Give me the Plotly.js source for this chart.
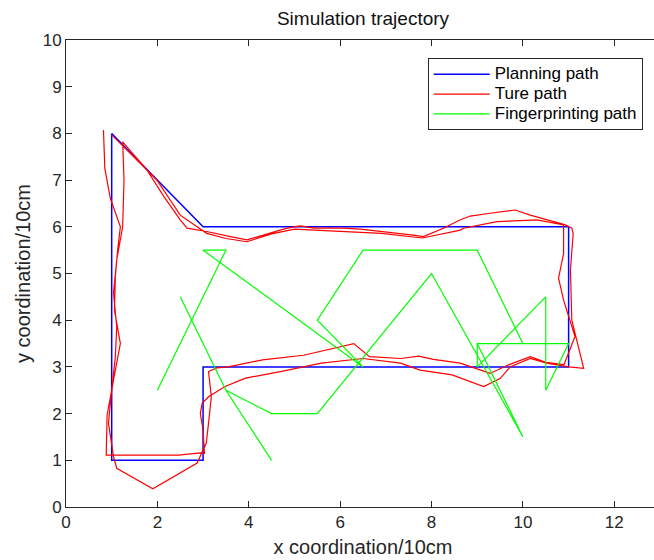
<!DOCTYPE html>
<html>
<head>
<meta charset="utf-8">
<script src="https://cdn.plot.ly/plotly-3.0.1.min.js"></script>
<style>html,body{margin:0;padding:0;overflow:hidden;background:#fff;}</style>
</head>
<body>
<div id="chart"></div>
<script>
// Planning path
const planX = [1, 1, 3, 3, 11, 11, 3, 1];
const planY = [8, 1, 1, 3, 3, 6, 6, 8];

// True ("Ture") path, two laps
const trueX = [0.82,0.85,0.97,1.04,1.19,1.13,1.08,1.06,1.19,1.08,0.97,0.90,0.88,2.46,2.94,3.03,3.00,2.94,2.98,3.12,3.48,3.93,4.69,5.59,6.50,7.32,7.75,8.45,9.14,9.50,9.72,10.16,10.52,11.00,11.33,11.18,11.07,11.04,11.10,11.07,10.93,10.16,9.83,9.28,8.85,8.63,8.26,7.82,7.60,6.88,6.44,6.07,5.42,5.13,4.98,4.76,3.96,3.60,3.08,2.65,2.50,2.14,1.77,1.24,
  1.27,1.24,1.11,1.04,1.11,1.08,1.00,0.97,0.93,1.00,1.04,1.11,1.90,2.87,3.07,3.12,3.18,3.12,3.30,3.55,4.30,5.20,5.90,6.30,6.64,7.32,7.72,8.04,8.63,9.28,9.70,10.16,10.50,10.90,11.14,11.00,10.89,10.78,10.89,10.89,10.89,10.31,9.43,8.70,8.63,7.80,6.90,6.00,5.00,4.50,3.96,3.50,3.08,2.50,2.28,1.99,1.00];
const trueY = [8.07,7.25,6.61,6.43,6.00,5.50,4.93,4.22,3.50,2.93,2.36,1.97,1.11,1.11,1.16,1.15,1.65,2.00,2.22,2.36,2.58,2.76,2.90,3.08,3.18,3.08,2.93,2.83,2.58,2.75,3.00,3.18,3.08,3.00,2.97,3.60,4.00,5.07,5.86,5.97,6.04,6.25,6.36,6.29,6.23,6.15,5.97,5.79,5.82,5.90,5.95,5.97,5.97,6.02,6.00,5.95,5.72,5.79,5.90,5.97,6.15,6.65,7.22,7.82,
  7.00,6.00,5.29,4.58,3.86,3.22,2.58,2.22,1.79,1.36,1.08,0.83,0.39,0.94,1.37,1.80,2.36,2.90,2.98,3.00,3.15,3.25,3.40,3.50,3.22,3.18,3.23,3.16,3.08,2.86,3.05,3.22,3.10,3.05,3.65,4.07,4.43,4.90,5.43,5.72,6.04,6.15,6.11,5.97,5.93,5.76,5.86,5.90,5.95,5.85,5.68,5.75,5.86,6.25,6.57,7.00,7.97];

// Fingerprinting path
const fpX = [2, 3.5, 3, 6.5, 5.5, 6.5, 9, 10, 11, 10.5, 10.5, 9, 9, 10, 11, 9, 10, 8, 5.5, 4.5, 3.5, 2.5, 3.5, 4.5];
const fpY = [2.5, 5.5, 5.5, 3, 4, 5.5, 5.5, 3.5, 3.5, 2.5, 4.5, 3, 3.5, 3.5, 3.5, 3.5, 1.5, 5, 2, 2, 2.5, 4.5, 2.5, 1];

const names = ['Planning path', 'Ture path', 'Fingerprinting path'];
const colors = ['#0000ff', '#ff0000', '#00ff00'];

const font = 'Liberation Sans, Arial, Helvetica, sans-serif';
const axisColor = '#262626';
const legendName = n => '<span style="font-size:17px">' + n + '</span>';

const traces = [
  {x: planX, y: planY, mode: 'lines', name: legendName(names[0]), line: {color: colors[0], width: 1.5}},
  {x: trueX, y: trueY, mode: 'lines', name: legendName(names[1]), line: {color: colors[1], width: 1.2}},
  {x: fpX, y: fpY, mode: 'lines', name: legendName(names[2]), line: {color: colors[2], width: 1.2}}
];

const axisCommon = {
  showgrid: false, zeroline: false, showline: true, mirror: 'ticks',
  linecolor: axisColor, linewidth: 1, ticks: 'inside', ticklen: 6,
  tickcolor: axisColor, tickfont: {family: font, size: 17, color: axisColor}
};

const layout = {
  width: 670, height: 560,
  margin: {l: 66, r: 10, t: 40, b: 53},
  paper_bgcolor: '#ffffff', plot_bgcolor: '#ffffff',
  font: {family: font, color: axisColor},
  title: {text: 'Simulation trajectory', font: {family: font, size: 19, color: '#111'}, x: 0.5, xref: 'paper', y: 0.968, yref: 'container', yanchor: 'middle'},
  xaxis: Object.assign({}, axisCommon, {range: [0, 13], dtick: 2, tick0: 0,
    title: {text: 'x coordination/10cm', font: {family: font, size: 20, color: axisColor}, standoff: 8}}),
  yaxis: Object.assign({}, axisCommon, {range: [0, 10], dtick: 1, tick0: 0,
    title: {text: 'y coordination/10cm', font: {family: font, size: 20, color: axisColor}, standoff: 6}}),
  showlegend: true,
  legend: {x: 0.609, y: 0.961, xanchor: 'left', yanchor: 'top', bgcolor: '#fff',
    bordercolor: axisColor, borderwidth: 1, font: {family: font, size: 13, color: '#000'},
    itemwidth: 56, tracegroupgap: 0}
};

Plotly.newPlot('chart', traces, layout, {displayModeBar: false, staticPlot: true});
</script>
</body>
</html>
